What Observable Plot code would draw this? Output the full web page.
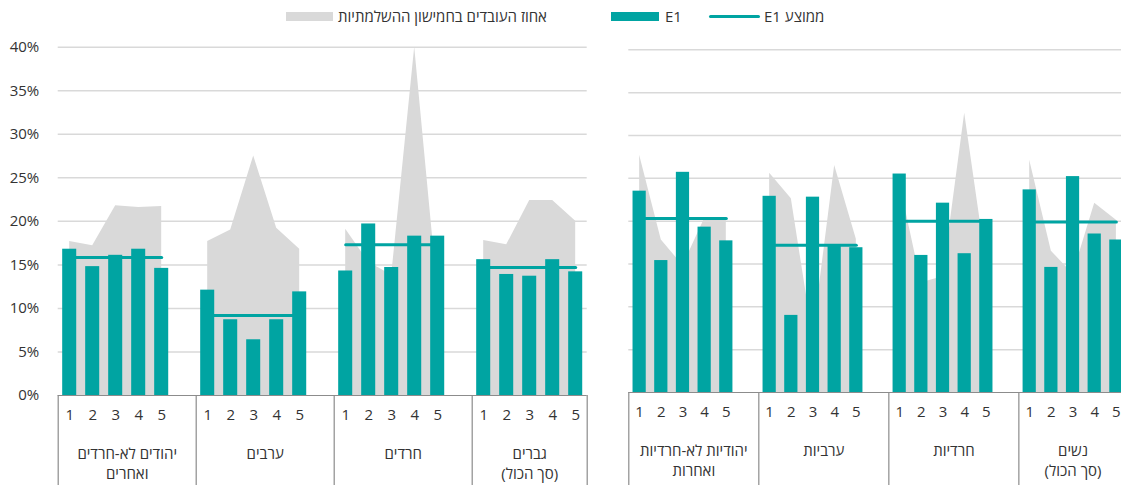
<!DOCTYPE html>
<html><head><meta charset="utf-8">
<script src="https://cdn.jsdelivr.net/npm/d3@7"></script>
<script src="https://cdn.jsdelivr.net/npm/@observablehq/plot@0.6"></script>
<style>
body{margin:0;overflow:hidden;background:#fff;font-family:"Open Sans",sans-serif;}
#wrap{position:relative;width:1121px;height:485px;overflow:hidden;}
#wrap svg{position:absolute;left:0;top:0;}
.leg{position:absolute;font-size:15px;color:#333;white-space:nowrap;line-height:18px;}
.sw{position:absolute;}
</style></head><body><div id="wrap"></div>
<script>
// ---- data ----
const quintiles = ["1", "2", "3", "4", "5"];
const groupsMen = ["יהודים לא-חרדים\nואחרים", "ערבים", "חרדים", "גברים\n(סך הכול)"];
const groupsWomen = ["יהודיות לא-חרדיות\nואחרות", "ערביות", "חרדיות", "נשים\n(סך הכול)"];

const e1Men = [[16.8, 14.8, 16.1, 16.8, 14.6], [12.1, 8.7, 6.4, 8.7, 11.9], [14.3, 19.7, 14.7, 18.3, 18.3], [15.6, 13.9, 13.7, 15.6, 14.2]];
const avgMen = [15.85, 9.2, 17.3, 14.7];
const shareMen = [[17.7, 17.2, 21.8, 21.6, 21.7], [17.7, 19.0, 27.5, 19.2, 16.8], [19.1, 15.3, 13.8, 40.0, 12.0], [17.8, 17.3, 22.4, 22.4, 20.0]];

const e1Women = [[23.5, 15.4, 25.7, 19.3, 17.7], [22.9, 9.0, 22.8, 17.2, 16.9], [25.5, 16.0, 22.1, 16.2, 20.2], [23.65, 14.6, 25.2, 18.5, 17.8]];
const avgWomen = [20.3, 17.2, 20.0, 19.9];
const shareWomen = [[27.7, 17.8, 14.8, 20.3, 20.3], [25.6, 22.6, 6.5, 26.5, 17.9], [24.5, 12.8, 13.5, 32.6, 15.0], [27.1, 16.5, 13.8, 22.1, 20.1]];

const legendLabels = ["אחוז העובדים בחמישון ההשלמתיות", "E1", "ממוצע E1"];

// ---- build ----
const TEAL = "#00A4A2", GRAY = "#D9D9D9", TXT = "#333333", AXIS = "#8c8c8c";
const SLOTS = 6, TOTAL = 23;

function rows(e1, share, avg) {
  const out = [];
  e1.forEach((vals, gi) => quintiles.forEach((q, qi) => out.push({
    group: gi, q, slot: gi * SLOTS + qi + 0.5, e1: vals[qi], share: share[gi][qi], avg: avg[gi]
  })));
  return out;
}
function groupRows(groups) {
  return groups.map((label, gi) => {
    const a = gi * SLOTS, b = Math.min(a + SLOTS, TOTAL);
    return {label, cx: (a + b) / 2};
  });
}
const bounds = d3.range(0, TOTAL, SLOTS).concat([TOTAL]);

function panel({e1, share, avg, groups, left, slotW, y0, y40, showY}) {
  const data = rows(e1, share, avg);
  const right = left + TOTAL * slotW;
  const svg = Plot.plot({
    width: 1121, height: 485,
    marginLeft: left, marginRight: Math.max(0, 1121 - right),
    marginTop: y40, marginBottom: 485 - y0,
    style: {background: "none", fontFamily: "'Open Sans', sans-serif", fontSize: "15px", color: TXT, overflow: "visible"},
    x: {domain: [0, TOTAL], range: [left, right], axis: null},
    y: {domain: [0, 40], range: [y0, y40], ticks: 8, tickFormat: d => d + "%", tickSize: 0, tickPadding: 19, label: null, axis: showY ? "left" : null},
    marks: [
      Plot.ruleY(d3.range(5, 41, 5), {stroke: GRAY, strokeWidth: 1.5}),
      Plot.areaY(data, {x: "slot", y1: 0, y2: "share", z: "group", fill: GRAY, curve: "linear"}),
      Plot.lineY(data, {x: "slot", y: "avg", z: "group", stroke: TEAL, strokeWidth: 3}),
      Plot.rect(data, {x1: d => d.slot - 0.305, x2: d => d.slot + 0.305, y1: 0, y2: "e1", fill: TEAL}),
      Plot.ruleY([0], {stroke: AXIS, strokeWidth: 1.2}),
      Plot.ruleX(bounds, {stroke: AXIS, strokeWidth: 1.2, insetTop: y0 - y40, insetBottom: -(485 - y0)}),
      Plot.text(data, {x: "slot", text: "q", frameAnchor: "bottom", dy: 24, fill: TXT, fontSize: 15}),
      Plot.text(groupRows(groups), {x: "cx", text: "label", frameAnchor: "bottom", lineAnchor: "top", dy: 50, lineHeight: 1.3, fill: TXT, fontSize: 15})
    ]
  });
  svg.querySelectorAll("text").forEach(t => {
    if (/[\u0590-\u05FF]/.test(t.textContent)) { t.setAttribute("direction", "rtl"); t.style.direction = "rtl"; }
  });
  return svg;
}

const wrap = document.getElementById("wrap");
wrap.appendChild(panel({e1: e1Men, share: shareMen, avg: avgMen, groups: groupsMen, left: 57.7, slotW: 23, y0: 395, y40: 46.7, showY: true}));
wrap.appendChild(panel({e1: e1Women, share: shareWomen, avg: avgWomen, groups: groupsWomen, left: 628.3, slotW: 21.67, y0: 392, y40: 49.3, showY: false}));

// legend
function addDiv(cls, style, text, dir) {
  const el = document.createElement(text == null ? "div" : "span");
  el.className = cls;
  Object.assign(el.style, style);
  if (text != null) el.textContent = text;
  if (dir) el.dir = dir;
  wrap.appendChild(el);
}
addDiv("sw", {left: "286px", top: "12px", width: "47px", height: "9px", background: GRAY});
addDiv("leg", {left: "338px", top: "7px"}, legendLabels[0], "rtl");
addDiv("sw", {left: "611px", top: "12px", width: "48px", height: "9px", background: TEAL});
addDiv("leg", {left: "665px", top: "7px"}, legendLabels[1]);
addDiv("sw", {left: "709px", top: "15px", width: "51px", height: "3px", background: TEAL, borderRadius: "2px"});
addDiv("leg", {left: "764px", top: "7px"}, legendLabels[2], "rtl");
</script></body></html>
